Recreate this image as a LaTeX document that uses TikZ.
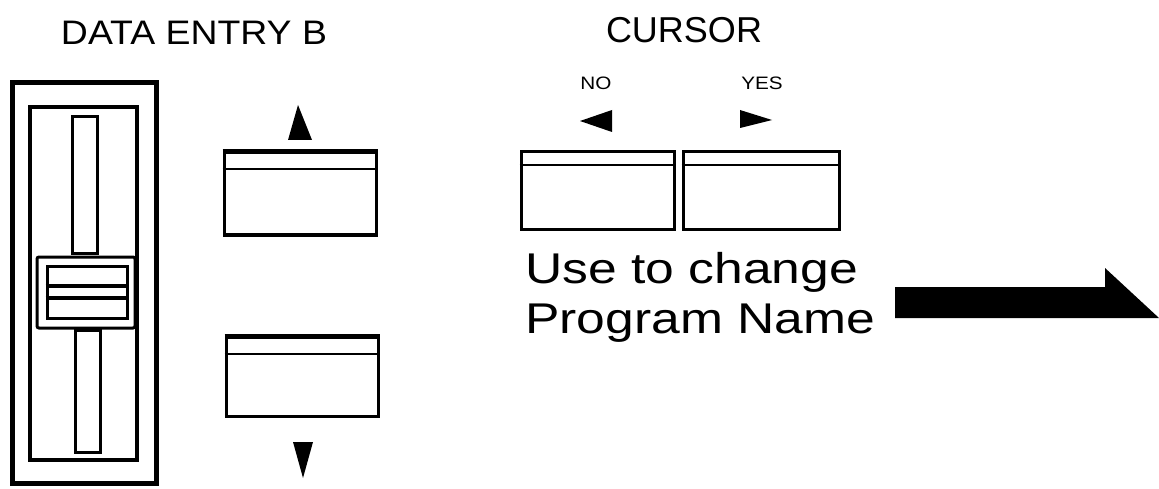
\documentclass[tikz,border=0pt]{standalone}
\usepackage{fontspec}
\setmainfont{Liberation Sans}
\usepackage{tikz}

\begin{document}
\begin{tikzpicture}[x=1pt, y=-1pt]
                \tikzstyle{frame} = [rectangle, draw, line width=3pt, inner sep=0pt]
                \tikzstyle{key} = [rectangle, draw, line width=3pt, inner sep=0pt, minimum height=80pt]
                \tikzstyle{keyline} = [line width=2pt]
                \tikzstyle{label} = [inner sep=0pt, anchor=base]
                \tikzstyle{tip} = [fill=black]

                \useasboundingbox (0,0) rectangle (1159,489);

                % fader
                \node (outer) [frame, line width=5pt, minimum width=144pt, minimum height=400pt] at (84,283) {};
                \node (inner) [frame, line width=3.5pt, minimum width=107pt, minimum height=353pt] at (83.5,283.5) {};
                \node (slotA) [frame, minimum width=25pt, minimum height=136pt] at (84.5,185) {};
                \node (slotB) [frame, minimum width=25pt, minimum height=122pt] at (87.5,391) {};
                \node (knob) [frame, fill=white, rounded corners=2pt, minimum width=98pt, minimum height=71pt] at (86,292.5) {};
                \node (grip) [frame, minimum width=80pt, minimum height=52pt] at (87,292) {};
                \draw [line width=4pt] ([yshift=-21pt]grip.north west) -- ([yshift=-21pt]grip.north east);
                \draw [line width=4pt] ([yshift=-33pt]grip.north west) -- ([yshift=-33pt]grip.north east);
                \node (data) [label, font=\fontsize{34}{40}\selectfont, xscale=1.1] at (194,45) {DATA ENTRY B};

                % up / down
                \node (up) [key, minimum width=152pt, minimum height=82pt] at (300,194) {};
                \node (down) [key, minimum width=152pt, minimum height=79pt] at (302,376.5) {};
                \draw [keyline] ([yshift=-18pt]up.north west) -- ([yshift=-18pt]up.north east);
                \draw [keyline] ([yshift=-18pt]down.north west) -- ([yshift=-18pt]down.north east);
                \draw [line width=4pt] (up.north west) -- (up.north east);
                \draw [line width=4pt] (down.north west) -- (down.north east);
                \fill [tip] (298,105) -- (312,140) -- (288,140) -- cycle;
                \fill [tip] (293,442) -- (313,442) -- (303,478) -- cycle;

                % cursor
                \node (cursor) [label, font=\fontsize{36}{42}\selectfont] at (684,43) {CURSOR};
                \node (no) [key, minimum width=153pt, minimum height=78pt] at (597.5,191) {};
                \node (yes) [key, minimum width=156pt, minimum height=78pt, right of=no, node distance=163.5pt] {};
                \draw [keyline] ([yshift=-15pt]no.north west) -- ([yshift=-15pt]no.north east);
                \draw [keyline] ([yshift=-15pt]yes.north west) -- ([yshift=-15pt]yes.north east);
                \node (noText) [label, font=\fontsize{18}{20}\selectfont, xscale=1.15] at (596,90) {NO};
                \node (yesText) [label, font=\fontsize{18}{20}\selectfont, xscale=1.15] at (762,90) {YES};
                \fill [tip] (580,121) -- (612,110) -- (612,132) -- cycle;
                \fill [tip] (740,110) -- (772,120) -- (740,128) -- cycle;

                % note and arrow
                \node (use) [label, anchor=base west, font=\fontsize{43}{50}\selectfont, xscale=1.2] at (525,283) {Use to change};
                \node (prog) [label, anchor=base west, font=\fontsize{43}{50}\selectfont, xscale=1.2] at (525,333) {Program Name};
                \fill [tip] (895,287) -- (1105,287) -- (1105,268) -- (1159,318) -- (895,318) -- cycle;
            \end{tikzpicture}
\end{document}
